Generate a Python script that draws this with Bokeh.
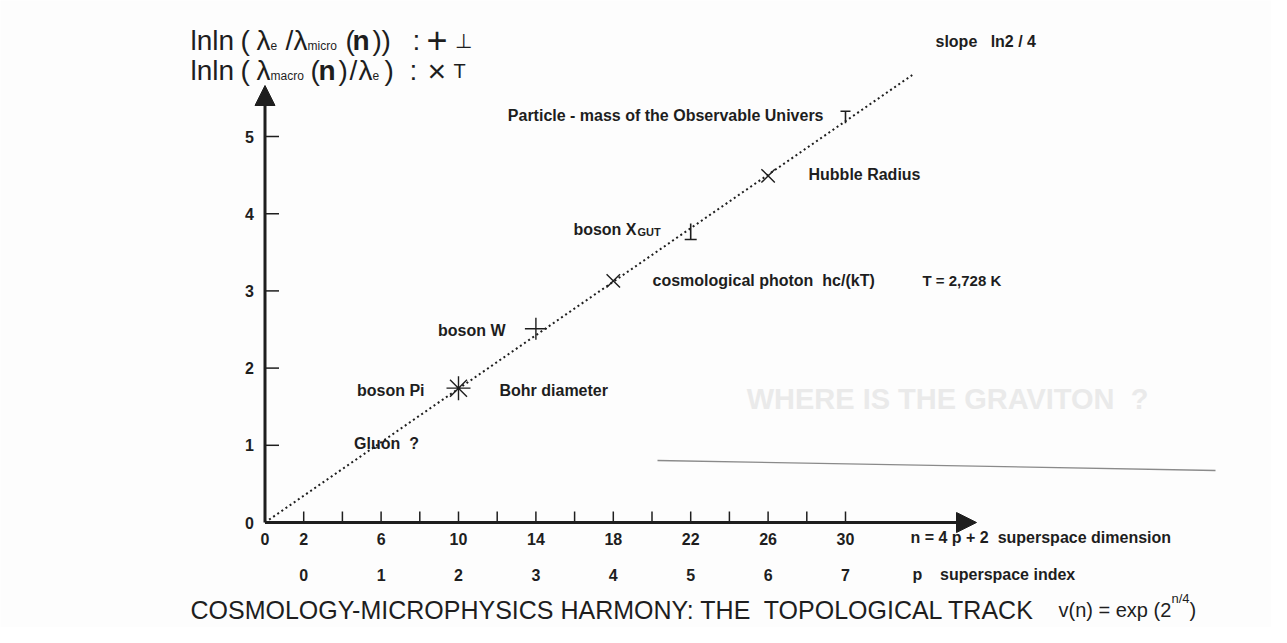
from bokeh.plotting import figure
from bokeh.models import Range1d, Arrow, NormalHead
from bokeh.core.properties import value
from bokeh.embed import file_html
from bokeh.resources import INLINE

# ---------------- data ----------------
slope = 0.6931 / 4.0                      # ln2 / 4
track_n = [0.0, 33.45]                    # dotted track extent
y_ticks = [0, 1, 2, 3, 4, 5]
n_ticks = [2, 4, 6, 8, 10, 12, 14, 16, 18, 20, 22, 24, 26, 28, 30]
n_tick_labels = [0, 2, 6, 10, 14, 18, 22, 26, 30]
p_index = [0, 1, 2, 3, 4, 5, 6, 7]

aster_n, aster_y = [10], [1.74]           # boson Pi / Bohr diameter
plus_n, plus_y = [14], [2.51]             # boson W (micro, +)
cross_n, cross_y = [18, 26], [3.13, 4.49] # cosmological photon, Hubble radius (macro, x)
perp_n, perp_y = [22], [3.77]             # boson X_GUT (micro, perp)
tee_n, tee_y = [30], [5.25]               # observable universe mass (macro, T)

# ---------------- geometry helpers (reference px -> data) ----------------
W, H = 1271, 627
SX, SY = 19.35, 77.2
X0PX, Y0PX = 264.5, 522.0

def dx(px):
    return (px - X0PX) / SX

def dy(py):
    return (Y0PX - py) / SY

INK = "#1e1e1e"
SANS = value("Liberation Sans")

p = figure(width=W, height=H, output_backend="svg", toolbar_location=None,
           x_range=Range1d(dx(0), dx(W)), y_range=Range1d(dy(H), dy(0)),
           x_axis_location=None, y_axis_location=None, min_border=0,
           background_fill_color="#fdfdfd", border_fill_color="#fdfdfd")
p.grid.visible = False
p.outline_line_color = None

# faint bleed-through from the back of the page
p.text(x=[dx(947)], y=[dy(398)], text=["WHERE IS THE GRAVITON\u00a0 ?"], text_font=SANS,
       text_font_size="29px", text_font_style="bold", text_color="#eaeaea",
       text_align="center", text_baseline="middle")
p.segment(x0=[dx(657)], y0=[dy(460)], x1=[dx(1215)], y1=[dy(470)],
          line_color="#8a8a8a", line_width=1.3)

# axes with arrows
p.add_layout(Arrow(end=NormalHead(size=20, fill_color=INK, line_color=INK),
                   x_start=0, y_start=0, x_end=0, y_end=dy(85),
                   line_width=3, line_color=INK))
p.add_layout(Arrow(end=NormalHead(size=20, fill_color=INK, line_color=INK),
                   x_start=0, y_start=0, x_end=dx(976), y_end=0,
                   line_width=3, line_color=INK))

# ticks
ytl = 14 / SX
p.segment(x0=[0] * 5, y0=y_ticks[1:], x1=[ytl] * 5, y1=y_ticks[1:], line_color=INK, line_width=1.5)
xtl = 11 / SY
p.segment(x0=n_ticks, y0=[0] * len(n_ticks), x1=n_ticks, y1=[xtl] * len(n_ticks),
          line_color=INK, line_width=1.5)

# tick labels
tick = dict(text_font=SANS, text_font_size="16px", text_font_style="bold", text_color=INK,
            text_baseline="middle")
p.text(x=[dx(249)] * len(y_ticks), y=y_ticks, text=[str(v) for v in y_ticks],
       text_align="center", **tick)
p.text(x=n_tick_labels, y=[dy(538)] * len(n_tick_labels), text=[str(v) for v in n_tick_labels],
       text_align="center", **tick)
p.text(x=[4 * q + 2 for q in p_index], y=[dy(574)] * len(p_index), text=[str(v) for v in p_index],
       text_align="center", **tick)
p.text(x=[dx(910), dx(912)], y=[dy(537), dy(574)],
       text=["n = 4 p + 2\u00a0 superspace dimension", "p \u00a0\u00a0 superspace index"],
       text_align="left", **tick)

# dotted topological track
p.line(x=track_n, y=[slope * v for v in track_n], line_color=INK, line_width=2, line_dash="2 3")

# markers
p.scatter(aster_n, aster_y, marker="asterisk", size=24, line_color=INK, line_width=1.4)
p.scatter(plus_n, plus_y, marker="cross", size=22, line_color=INK, line_width=1.4)
p.scatter(cross_n, cross_y, marker="x", size=19, line_color=INK, line_width=1.4)
hh, hw = 8 / SY, 6 / SX
p.segment(x0=perp_n, y0=[v - hh for v in perp_y], x1=perp_n, y1=[v + hh for v in perp_y],
          line_color=INK, line_width=1.6)
p.segment(x0=[v - hw for v in perp_n], y0=[v - hh for v in perp_y],
          x1=[v + hw for v in perp_n], y1=[v - hh for v in perp_y], line_color=INK, line_width=1.6)
th, tw = 6 / SY, 5 / SX
p.segment(x0=tee_n, y0=[v - th for v in tee_y], x1=tee_n, y1=[v + th for v in tee_y],
          line_color=INK, line_width=1.6)
p.segment(x0=[v - tw for v in tee_n], y0=[v + th for v in tee_y],
          x1=[v + tw for v in tee_n], y1=[v + th for v in tee_y], line_color=INK, line_width=1.6)

# point labels
lab = dict(text_font=SANS, text_font_size="16px", text_font_style="bold", text_color=INK,
           text_baseline="middle")
p.text(x=[dx(424), dx(505), dx(636)], y=[dy(390), dy(330), dy(229)],
       text=["boson Pi", "boson W", "boson X"], text_align="right", **lab)
p.text(x=[dx(637)], y=[dy(231)], text=["GUT"], text_font=SANS, text_font_size="11px",
       text_font_style="bold", text_color=INK, text_baseline="middle", text_align="left")
p.text(x=[dx(823)], y=[dy(115)], text=["Particle - mass of the Observable Univers"],
       text_align="right", **lab)
p.text(x=[dx(499), dx(652), dx(808), dx(935)],
       y=[dy(390), dy(280), dy(174), dy(41)],
       text=["Bohr diameter", "cosmological photon\u00a0 hc/(kT)",
             "Hubble Radius", "slope \u00a0 ln2 / 4"], text_align="left", **lab)
p.text(x=[dx(922)], y=[dy(280)], text=["T = 2,728 K"], text_font=SANS, text_font_size="15px",
       text_font_style="bold", text_color=INK, text_baseline="middle", text_align="left")
p.text(x=[dx(386)], y=[dy(443)], text=["Gluon\u00a0 ?"], text_align="center", **lab)

# top-left legend of the ordinate
big = dict(text_font=SANS, text_font_size="28px", text_color=INK, text_baseline="middle",
           text_align="left")
sub = dict(text_font=SANS, text_font_size="12px", text_color=INK, text_baseline="middle",
           text_align="left")
nb = dict(text_font=SANS, text_font_size="28px", text_font_style="bold", text_color=INK,
          text_baseline="middle", text_align="left")
b1, b2 = 40, 70
p.text(x=[dx(190), dx(240), dx(256), dx(285), dx(293), dx(345), dx(372), dx(381), dx(412)],
       y=[dy(b1)] * 9, text=["lnln", "(", "\u03bb", "/", "\u03bb", "(", ")", ")", ":"], **big)
p.text(x=[dx(270), dx(307)], y=[dy(b1 + 5)] * 2, text=["e", "micro"], **sub)
p.text(x=[dx(352)], y=[dy(b1)], text=["n"], **nb)
p.text(x=[dx(190), dx(240), dx(256), dx(310), dx(338), dx(349), dx(358), dx(384), dx(409)],
       y=[dy(b2)] * 9, text=["lnln", "(", "\u03bb", "(", ")", "/", "\u03bb", ")", ":"], **big)
p.text(x=[dx(270), dx(372)], y=[dy(b2 + 5)] * 2, text=["macro", "e"], **sub)
p.text(x=[dx(318)], y=[dy(b2)], text=["n"], **nb)
p.text(x=[dx(426)], y=[dy(b1 - 1)], text=["+"], text_font=SANS, text_font_size="36px",
       text_color=INK, text_baseline="middle", text_align="left")
p.text(x=[dx(427)], y=[dy(b2)], text=["\u00d7"], text_font=SANS, text_font_size="32px",
       text_color=INK, text_baseline="middle", text_align="left")
p.text(x=[dx(454), dx(453)], y=[dy(b1), dy(b2)], text=["\u22a5", "T"], text_font=SANS,
       text_font_size="20px", text_color=INK, text_baseline="middle", text_align="left")

# caption
p.text(x=[dx(190)], y=[dy(609)], text=["COSMOLOGY-MICROPHYSICS HARMONY: THE\u00a0 TOPOLOGICAL TRACK"],
       text_font=SANS, text_font_size="25px", text_color=INK, text_baseline="middle",
       text_align="left")
cap = dict(text_font=SANS, text_font_size="20px", text_color=INK, text_baseline="middle",
           text_align="left")
p.text(x=[dx(1058)], y=[dy(609)], text=["v(n) = exp (2"], **cap)
p.text(x=[dx(1171)], y=[dy(598)], text=["n/4"], text_font=SANS, text_font_size="13px",
       text_color=INK, text_baseline="middle", text_align="left")
p.text(x=[dx(1189)], y=[dy(609)], text=[")"], **cap)

open("out.html", "w").write(file_html(p, INLINE))
